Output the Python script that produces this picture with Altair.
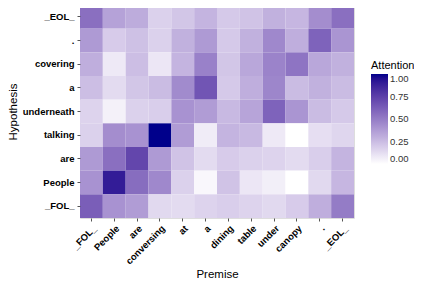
import altair as alt
import pandas as pd

premise = ["_FOL_", "People", "are", "conversing", "at", "a", "dining", "table",
           "under", "canopy", ".", "_EOL_"]
hypothesis = ["_EOL_", ".", "covering", "a", "underneath", "talking", "are", "People", "_FOL_"]

# attention values, one list per hypothesis row (top to bottom), premise order
row_EOL = [0.55, 0.35, 0.31, 0.17, 0.21, 0.28, 0.20, 0.22, 0.29, 0.27, 0.43, 0.55]
row_dot = [0.38, 0.19, 0.23, 0.17, 0.29, 0.38, 0.20, 0.29, 0.45, 0.30, 0.60, 0.40]
row_covering = [0.30, 0.08, 0.24, 0.09, 0.28, 0.48, 0.21, 0.33, 0.47, 0.53, 0.33, 0.29]
row_a = [0.24, 0.13, 0.21, 0.25, 0.44, 0.66, 0.20, 0.30, 0.46, 0.25, 0.29, 0.25]
row_underneath = [0.16, 0.05, 0.17, 0.18, 0.41, 0.37, 0.26, 0.34, 0.60, 0.40, 0.25, 0.20]
row_talking = [0.17, 0.43, 0.41, 1.00, 0.37, 0.07, 0.28, 0.26, 0.08, 0.00, 0.12, 0.15]
row_are = [0.38, 0.55, 0.72, 0.38, 0.22, 0.13, 0.19, 0.17, 0.16, 0.13, 0.18, 0.28]
row_People = [0.41, 0.90, 0.56, 0.45, 0.17, 0.03, 0.22, 0.09, 0.06, 0.00, 0.14, 0.27]
row_FOL = [0.62, 0.41, 0.37, 0.14, 0.13, 0.16, 0.18, 0.16, 0.14, 0.19, 0.30, 0.50]

rows = [row_EOL, row_dot, row_covering, row_a, row_underneath, row_talking,
        row_are, row_People, row_FOL]

records = []
for h, vals in zip(hypothesis, rows):
    for p, v in zip(premise, vals):
        records.append({"Premise": p, "Hypothesis": h, "Attention": v})
df = pd.DataFrame(records)

FONT = "Liberation Sans"

chart = alt.Chart(df).mark_rect().encode(
    x=alt.X("Premise:N", sort=premise, title="Premise",
            axis=alt.Axis(labelAngle=-45, labelAlign="right", labelBaseline="top",
                          labelFontWeight="bold", labelFontSize=9.5, labelColor="black",
                          labelPadding=2, tickColor="#555555", tickSize=3,
                          domain=False, titleFontWeight="normal", titleFontSize=11.5,
                          titlePadding=3, titleColor="black")),
    y=alt.Y("Hypothesis:N", sort=hypothesis, title="Hypothesis",
            axis=alt.Axis(labelFontWeight="bold", labelFontSize=9.5, labelColor="black",
                          labelPadding=3, tickColor="#555555", tickSize=3,
                          domain=False, titleFontWeight="normal", titleFontSize=11.5,
                          titlePadding=4, titleColor="black")),
    color=alt.Color("Attention:Q",
                    scale=alt.Scale(domain=[0, 1], range=["#ffffff", "#00008B"],
                                    interpolate="lab"),
                    legend=alt.Legend(orient="none", legendX=291, legendY=55,
                                      gradientLength=90, gradientThickness=17,
                                      values=[0, 0.25, 0.5, 0.75, 1.0],
                                      format=".2f", direction="vertical",
                                      titleFontWeight="normal", titleFontSize=11,
                                      titleColor="black", labelFontSize=9.5,
                                      labelColor="#333333", titlePadding=3,
                                      gradientStrokeWidth=0)),
).properties(
    width=274, height=213,
    autosize=alt.AutoSizeParams(type="none"),
    padding={"left": 72, "top": -3, "right": 60, "bottom": 70},
).configure_view(
    stroke="#888888", strokeWidth=1.2
).configure(
    font=FONT
)

chart.save("out.html", embed_options={"renderer": "svg", "actions": False})
